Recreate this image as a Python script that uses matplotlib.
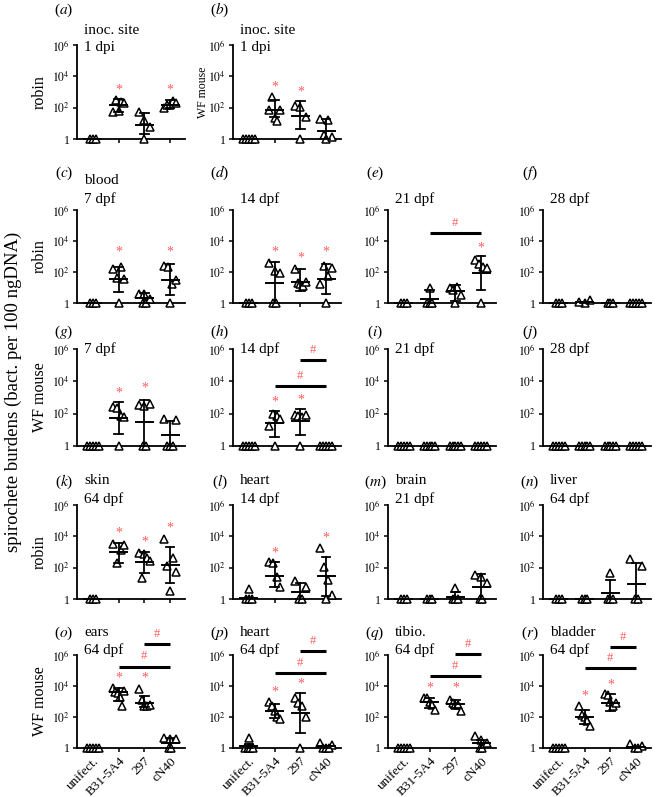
import numpy as np
import matplotlib.pyplot as plt

plt.rcParams['font.family'] = ['Liberation Serif', 'DejaVu Serif']
plt.rcParams['mathtext.fontset'] = 'stix'

groups = ['unifect.', 'B31-5A4', '297', 'cN40']

# log10 of spirochete burden per animal (0 = not detected, drawn on the axis at 1)
points = {
    'a': [[0, 0, 0], [1.75, 2.5, 1.8, 2.35, 2.3], [1.7, 1.2, 0.75, 0], [2.0, 2.2, 2.15, 2.45, 2.3]],
    'b': [[0, 0, 0, 0, 0], [1.88, 2.68, 1.35, 1.13, 1.85], [2.08, 2.05, 1.4, 0], [1.3, 0.25, 1.2, 0, 0.15]],
    'c': [[0, 0, 0], [2.2, 1.6, 2.3, 0, 1.55], [0.57, 0.6, 0, 0, 0.26], [2.4, 2.35, 1.2, 0, 1.5]],
    'd': [[0, 0, 0], [0, 2.6, 2.05, 1.95, 0], [2.2, 1.3, 1.2, 1.1, 1.35], [1.2, 2.38, 0, 1.75, 2.28]],
    'e': [[0, 0, 0], [0, 0, 1.0, 0], [1.0, 0.85, 1.05, 0.5, 0], [2.8, 2.5, 0, 2.3, 2.28]],
    'f': [[0, 0, 0], [0, 0.05, 0.2], [0, 0, 0], [0, 0, 0, 0, 0]],
    'g': [[0, 0, 0, 0, 0], [2.4, 2.35, 1.85, 1.8, 0], [2.55, 0, 2.5, 2.58, 0], [1.7, 0, 0, 1.62, 0]],
    'h': [[0, 0, 0, 0, 0], [1.26, 2.0, 0, 1.85, 1.69], [1.94, 1.85, 0, 1.78, 1.9], [0, 0, 0, 0, 0]],
    'i': [[0, 0, 0, 0, 0], [0, 0, 0, 0, 0], [0, 0, 0, 0, 0], [0, 0, 0, 0, 0]],
    'j': [[0, 0, 0, 0, 0], [0, 0, 0, 0, 0], [0, 0, 0, 0, 0], [0, 0, 0, 0, 0]],
    'k': [[0, 0, 0], [3.5, 2.3, 3.15, 3.45], [2.95, 1.32, 2.85, 2.6, 2.45], [3.8, 2.1, 0.5, 2.6, 1.75]],
    'l': [[0.62, 0, 0, 0], [2.38, 2.28, 1.43, 0.74], [1.17, 0.74, 0, 0], [3.28, 2.02, 1.21, 0.26, 0]],
    'm': [[0, 0, 0], [0, 0, 0], [0.68, 0, 0, 0], [1.53, 1.38, 1.0, 0, 0]],
    'n': [[0, 0, 0], [0, 0, 0], [1.68, 0, 0, 0], [2.53, 2.11, 0, 0]],
    'o': [[0, 0, 0, 0, 0], [3.85, 3.6, 3.54, 3.26, 2.68, 3.65], [3.79, 3.1, 2.68, 2.7, 2.75], [0.64, 0.6, 0.55, 0, 0]],
    'p': [[0.64, 0, 0, 0, 0], [3.0, 2.68, 2.36, 2.03, 1.86], [3.25, 2.89, 2.68, 2.03, 0], [0.32, 0.2, 0, 0, 0]],
    'q': [[0, 0, 0, 0, 0], [3.25, 3.2, 3.0, 2.78, 2.46], [3.1, 2.89, 2.78, 2.8, 2.36], [0.75, 0.54, 0.3, 0, 0]],
    'r': [[0, 0, 0, 0, 0], [2.68, 2.14, 2.03, 1.71, 1.44], [3.47, 3.4, 2.94, 2.68, 2.9], [0.28, 0.1, 0, 0]],
}

# mean and mean +/- SD (log10)
means = {
    'a': [0, 2.14, 0.92, 2.2], 'b': [0, 1.86, 1.5, 0.54], 'c': [0, 1.57, 0.3, 1.49],
    'd': [0, 1.32, 1.36, 1.57], 'e': [0, 0.25, 0.75, 1.96], 'f': [0, 0.05, 0, 0],
    'g': [0, 1.73, 1.47, 0.66], 'h': [0, 1.41, 1.52, 0], 'i': [0, 0, 0, 0], 'j': [0, 0, 0, 0],
    'k': [0, 2.98, 2.38, 2.17], 'l': [0.05, 1.47, 0.47, 1.47], 'm': [0, 0, 0.15, 0.74],
    'n': [0, 0, 0.4, 0.94], 'o': [0, 3.6, 2.89, 0.32], 'p': [0.1, 2.36, 2.25, 0.1],
    'q': [0, 2.94, 2.83, 0.32], 'r': [0, 2.03, 2.89, 0.04],
}
sd_lo = {
    'a': [0, 1.7, 0.3, 2.0], 'b': [0, 1.39, 0.64, 0], 'c': [0, 0.72, 0, 0.51],
    'd': [0, 0, 0.79, 0.57], 'e': [0, 0, 0.13, 0.85], 'f': [0, 0, 0, 0],
    'g': [0, 0.73, 0, 0], 'h': [0, 0.58, 0.66, 0], 'i': [0, 0, 0, 0], 'j': [0, 0, 0, 0],
    'k': [0, 2.28, 1.68, 1.0], 'l': [0, 0.74, 0, 0.19], 'm': [0, 0, 0, 0],
    'n': [0, 0, 0, 0], 'o': [0, 3.04, 2.64, 0], 'p': [0, 1.93, 0.96, 0],
    'q': [0, 2.57, 2.57, 0], 'r': [0, 1.54, 2.36, 0],
}
sd_hi = {
    'a': [0, 2.55, 1.67, 2.46], 'b': [0, 2.46, 2.4, 1.29], 'c': [0, 2.34, 0.65, 2.49],
    'd': [0, 2.64, 2.21, 2.49], 'e': [0, 0.85, 1.15, 3.06], 'f': [0, 0.05, 0, 0],
    'g': [0, 2.75, 2.86, 1.54], 'h': [0, 2.16, 2.29, 0], 'i': [0, 0, 0, 0], 'j': [0, 0, 0, 0],
    'k': [0, 3.55, 3.02, 3.34], 'l': [0.05, 2.38, 1.0, 2.7], 'm': [0, 0, 0.47, 1.57],
    'n': [0, 0, 1.21, 2.28], 'o': [0, 3.85, 3.36, 0.64], 'p': [0.25, 2.83, 3.58, 0.1],
    'q': [0, 3.25, 3.1, 0.54], 'r': [0, 2.46, 3.47, 0.04],
}

# red asterisks: (group index, log10 height)
stars = {
    'a': [(1, 3.15), (3, 3.15)], 'b': [(1, 3.32), (2, 3.0)],
    'c': [(1, 3.28), (3, 3.28)], 'd': [(1, 3.28), (2, 2.91), (3, 3.28)],
    'e': [(3, 3.55)], 'g': [(1, 3.29), (2, 3.61)], 'h': [(1, 2.71), (2, 2.86)],
    'k': [(1, 4.19), (2, 3.66), (3, 4.51)], 'l': [(1, 2.96), (3, 3.87)],
    'o': [(1, 4.5), (2, 4.5)], 'p': [(1, 3.6), (2, 4.11)],
    'q': [(1, 3.9), (2, 3.9)], 'r': [(1, 3.32), (2, 4.07)],
}

# '#' comparison bars: (from group, to group, log10 height)
hash_bars = {
    'e': [(1, 3, 4.5)],
    'h': [(1, 3, 3.71), (2, 3, 5.32)],
    'o': [(1, 3, 5.25), (2, 3, 6.69)],
    'p': [(1, 3, 4.82), (2, 3, 6.25)],
    'q': [(1, 3, 4.65), (2, 3, 6.04)],
    'r': [(1, 3, 5.14), (2, 3, 6.53)],
}

titles = {
    'a': ['inoc. site', '1 dpi'], 'b': ['inoc. site', '1 dpi'], 'c': ['blood', '7 dpf'],
    'd': ['14 dpf'], 'e': ['21 dpf'], 'f': ['28 dpf'],
    'g': ['7 dpf'], 'h': ['14 dpf'], 'i': ['21 dpf'], 'j': ['28 dpf'],
    'k': ['skin', '64 dpf'], 'l': ['heart', '14 dpf'], 'm': ['brain', '21 dpf'], 'n': ['liver', '64 dpf'],
    'o': ['ears', '64 dpf'], 'p': ['heart', '64 dpf'], 'q': ['tibio.', '64 dpf'], 'r': ['bladder', '64 dpf'],
}

grid = {'a': (0, 0), 'b': (0, 1),
        'c': (1, 0), 'd': (1, 1), 'e': (1, 2), 'f': (1, 3),
        'g': (2, 0), 'h': (2, 1), 'i': (2, 2), 'j': (2, 3),
        'k': (3, 0), 'l': (3, 1), 'm': (3, 2), 'n': (3, 3),
        'o': (4, 0), 'p': (4, 1), 'q': (4, 2), 'r': (4, 3)}
row_names = ['robin', 'robin', 'WF mouse', 'robin', 'WF mouse']

# layout in pixels
W, H = 660, 797
lefts = [77, 233, 388, 543]
tops = [45, 210, 349, 505, 655]
bottoms = [139, 303, 446, 599, 748]
ax_w = 108
letter_y = [10, 173, 332, 482, 633]
title_y = [48, 199, 349, 499, 650]
red = '#ff5c5c'


def fx(x):
    return x / W


def fy(y):
    return 1 - y / H


def spread(vals):
    vals = np.asarray(vals, dtype=float)
    off = np.zeros(len(vals))
    z = vals <= 0
    nz = ~z
    if z.sum() > 1:
        off[z] = (np.arange(z.sum()) - (z.sum() - 1) / 2) * 0.11
    if nz.sum() > 1:
        off[nz] = np.linspace(-0.22, 0.22, nz.sum())
    return off


fig = plt.figure(figsize=(6.6, 7.97), dpi=100)

for key, (r, c) in grid.items():
    l, t, b = lefts[c], tops[r], bottoms[r]
    ax = fig.add_axes([fx(l), fy(b), ax_w / W, (b - t) / H])
    ax.set_yscale('log')
    ax.set_ylim(1, 1e6)
    ax.set_xlim(-0.62, 3.58)

    for gi in range(4):
        vals = np.array(points[key][gi])
        xs = gi + spread(vals)
        ax.plot(xs, 10 ** vals, ls='none', marker='^', ms=5.6, mfc='white', mec='black',
                mew=1.1, clip_on=False, zorder=3)
        m, lo, hi = means[key][gi], sd_lo[key][gi], sd_hi[key][gi]
        ax.plot([gi - 0.33, gi + 0.33], [10 ** m] * 2, color='black', lw=1.4, clip_on=False, zorder=4)
        if hi > lo:
            ax.plot([gi, gi], [10 ** lo, 10 ** hi], color='black', lw=1.3, zorder=4)
            for v in (lo, hi):
                ax.plot([gi - 0.17, gi + 0.17], [10 ** v] * 2, color='black', lw=1.3,
                        clip_on=False, zorder=4)

    for gi, h in stars.get(key, []):
        ax.text(gi, 10 ** h, '*', color=red, ha='center', va='center', fontsize=10)
    for g1, g2, h in hash_bars.get(key, []):
        ax.plot([g1, g2], [10 ** h] * 2, color='black', lw=2.2, clip_on=False,
                solid_capstyle='butt')
        ax.annotate('#', (0.5 * (g1 + g2), 10 ** h), xytext=(0, 3), textcoords='offset points',
                    ha='center', va='bottom', color=red, fontsize=9, annotation_clip=False)

    for s in ('top', 'right'):
        ax.spines[s].set_visible(False)
    for s in ('left', 'bottom'):
        ax.spines[s].set_linewidth(1.3)
    ax.set_yticks([1, 1e2, 1e4, 1e6])
    ax.set_yticklabels(['1', '$10^2$', '$10^4$', '$10^6$'], fontsize=8.5)
    ax.minorticks_off()
    ax.set_xticks(range(4))
    ax.tick_params(axis='both', length=3, width=1.1, pad=2)
    if r == 4:
        ax.set_xticklabels(groups, rotation=45, ha='right', va='top',
                           rotation_mode='anchor', fontsize=9.5)
    else:
        ax.set_xticklabels([])

    # panel letter and title
    fig.text(fx(l - 13), fy(letter_y[r]), '($\\it{' + key + '}$)', ha='center', va='center',
             fontsize=11)
    lines = titles[key]
    for k, line in enumerate(reversed(lines)):
        fig.text(fx(l + 7), fy(title_y[r] - 18 * k), line, ha='left', va='center', fontsize=11)

    if c == 0:
        fig.text(fx(40), fy((t + b) / 2), row_names[r], rotation=90, ha='center', va='center',
                 fontsize=11.5)
    if key == 'b':
        fig.text(fx(203), fy((t + b) / 2), 'WF mouse', rotation=90, ha='center', va='center',
                 fontsize=8.5)

fig.text(fx(13), fy(392), 'spirochete burdens (bact. per 100 ngDNA)', rotation=90,
         ha='center', va='center', fontsize=13.5)

fig.savefig('out.png', dpi=100)
